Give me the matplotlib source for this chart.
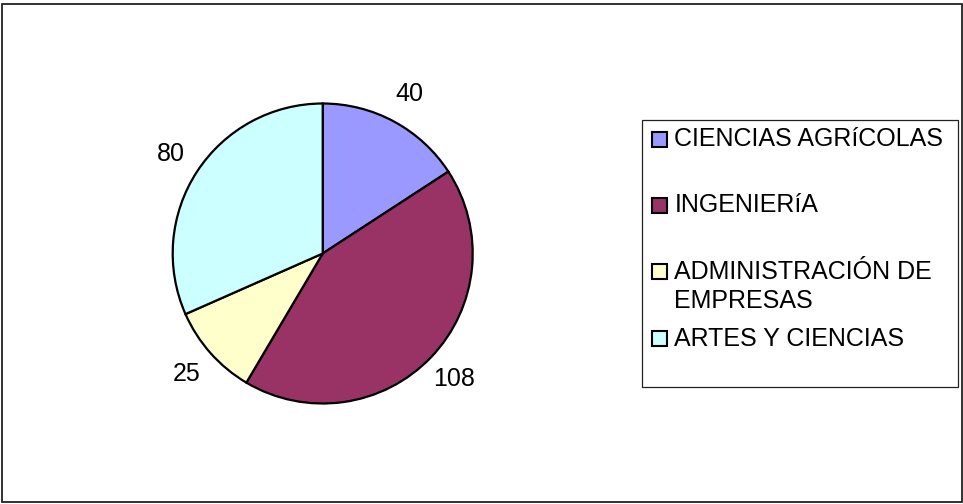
import textwrap

import matplotlib

matplotlib.use("Agg")
import matplotlib.pyplot as plt
from matplotlib.patches import Rectangle

plt.rcParams["font.family"] = ["Liberation Sans", "DejaVu Sans"]

categories = [
    "CIENCIAS AGRíCOLAS",
    "INGENIERíA",
    "ADMINISTRACIÓN DE EMPRESAS",
    "ARTES Y CIENCIAS",
]
values = [40, 108, 25, 80]
colors = ["#9999FF", "#993366", "#FFFFCC", "#CCFFFF"]

W, H = 963, 504
FONT_SIZE = 18


def px_box(x0, y0, x1, y1):
    # pixel box (top-left origin) -> figure fraction rect
    return [x0 / W, (H - y1) / H, (x1 - x0) / W, (y1 - y0) / H]


fig = plt.figure(figsize=(W / 100, H / 100), dpi=100)

# outer chart border
fig.patches.append(
    Rectangle((1.5 / W, 2 / H), 960 / W, 498.5 / H, transform=fig.transFigure,
              fill=False, edgecolor="#222222", linewidth=1.3)
)

ax = fig.add_axes(px_box(172.7, 103.5, 472.7, 403.5))
wedges, texts = ax.pie(
    values,
    labels=[str(v) for v in values],
    colors=colors,
    startangle=90,
    counterclock=False,
    radius=1.0,
    labeldistance=1.21,
    wedgeprops={"edgecolor": "black", "linewidth": 1.6},
    textprops={"fontsize": FONT_SIZE, "color": "black"},
)
for text in texts:
    text.set_horizontalalignment("center")
    text.set_verticalalignment("center")
ax.set_xlim(-1, 1)
ax.set_ylim(-1, 1)
ax.set_aspect("auto")
ax.axis("off")

# legend box, drawn like the spreadsheet one
fig.patches.append(
    Rectangle((641.7 / W, (H - 386.7) / H), 316 / W, 266.7 / H,
              transform=fig.transFigure, fill=False, edgecolor="#222222",
              linewidth=0.9)
)
row_centers = [139, 205, 271.5, 338]
line_step = 28.5
for label, color, yc in zip(categories, colors, row_centers):
    fig.patches.append(
        Rectangle((652 / W, (H - yc - 7.5) / H), 15 / W, 15 / H,
                  transform=fig.transFigure, facecolor=color,
                  edgecolor="black", linewidth=1.5)
    )
    for i, line in enumerate(textwrap.fill(label, 18).split("\n")):
        fig.text(674.3 / W, (H - yc - 7.5 - i * line_step) / H, line,
                 fontsize=FONT_SIZE, ha="left", va="baseline")

fig.savefig("out.png", dpi=100)
